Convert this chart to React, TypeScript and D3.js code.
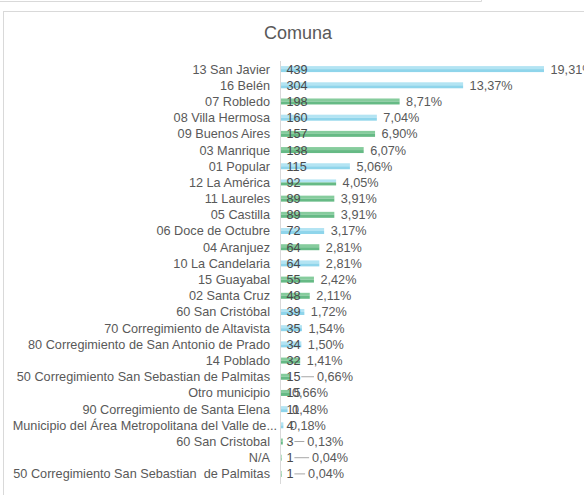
import React from "react";
import * as d3 from "d3";

const categories = [
  "13 San Javier",
  "16 Belén",
  "07 Robledo",
  "08 Villa Hermosa",
  "09 Buenos Aires",
  "03 Manrique",
  "01 Popular",
  "12 La América",
  "11 Laureles",
  "05 Castilla",
  "06 Doce de Octubre",
  "04 Aranjuez",
  "10 La Candelaria",
  "15 Guayabal",
  "02 Santa Cruz",
  "60 San Cristóbal",
  "70 Corregimiento de Altavista",
  "80 Corregimiento de San Antonio de Prado",
  "14 Poblado",
  "50 Corregimiento San Sebastian de Palmitas",
  "Otro municipio",
  "90 Corregimiento de Santa Elena",
  "Municipio del Área Metropolitana del Valle de...",
  "60 San Cristobal",
  "N/A",
  "50 Corregimiento San Sebastian\u00a0 de Palmitas",
];

const counts = [439, 304, 198, 160, 157, 138, 115, 92, 89, 89, 72, 64, 64, 55, 48, 39, 35, 34, 32, 15, 15, 11, 4, 3, 1, 1];

// bar colour kind: b = blue, g = green, bg = blue top / green bottom
const colorKinds = ["b", "b", "g", "b", "g", "g", "b", "bg", "g", "g", "b", "g", "b", "g", "g", "b", "b", "b", "g", "g", "g", "b", "b", "g", "g", "g"];

// label placement nudges (layout only), by row index
const pctNudge: Record<number, number> = { 19: 20.5, 20: -4.5, 21: -2, 22: 0, 23: 18, 24: 24, 25: 20 };

const W = 584;
const H = 495;
const TEXT = "#595959";
const FONT = "'Liberation Sans', Arial, sans-serif";

export default function App() {
  const total = d3.sum(counts);
  const x = d3.scaleLinear().domain([0, 439]).range([281, 544]);
  const y = d3.scaleBand<string>().domain(categories).range([61, 482]).paddingInner(0.63).paddingOuter(0.315);
  const bh = y.bandwidth();
  const fmt = (v: number) => (Math.round((v / total) * 10000) / 100).toFixed(2).replace(".", ",") + "%";
  const blueTop = "#b3e4f3";
  const blueBot = "#8fd5eb";
  const greenTop = "#86cc9d";
  const greenBot = "#66ba85";

  return (
    <svg width={W} height={H} style={{ position: "absolute", left: 0, top: 0, background: "#fff" }} fontFamily={FONT}>
      <rect x={0} y={0} width={W} height={H} fill="#fff" />
      {/* frame pieces */}
      <line x1={0} x2={481.5} y1={1.5} y2={1.5} stroke="#d9d9d9" />
      <line x1={481.5} x2={481.5} y1={0} y2={1.5} stroke="#d9d9d9" />
      <rect x={3.5} y={11.5} width={W} height={H} fill="none" stroke="#d9d9d9" />
      <text x={298} y={39} textAnchor="middle" fontSize={18} fill={TEXT}>
        Comuna
      </text>
      {/* axis line */}
      <line x1={280.5} x2={280.5} y1={61} y2={484} stroke="#d9d9d9" />
      {categories.map((c, i) => {
        const v = counts[i];
        const yc = (y(c) as number) + bh / 2;
        const x0 = x(0);
        const x1 = x(v);
        const kind = colorKinds[i];
        const top = kind === "g" ? greenTop : blueTop;
        const bot = kind === "b" ? blueBot : greenBot;
        const barEnd = x1;
        const nudge = pctNudge[i] ?? 0;
        const px = barEnd + 6.5 + nudge;
        const cntStr = String(v);
        const cntEnd = 286.5 + cntStr.length * 6.9;
        const truncated = c.endsWith("...");
        return (
          <g key={c}>
            <text x={truncated ? 277 : 270} y={yc} dy="0.35em" textAnchor="end" fontSize={12.7} fill={TEXT}>
              {c}
            </text>
            <rect x={x0} y={yc - bh / 2} width={Math.max(0, x1 - x0)} height={bh / 2} fill={top} />
            <rect x={x0} y={yc} width={Math.max(0, x1 - x0)} height={bh / 2} fill={bot} />
            {nudge > 10 && <line x1={cntEnd + 1} x2={px - 3} y1={yc} y2={yc} stroke="#a6a6a6" strokeWidth={1} />}
            <text x={286.5} y={yc} dy="0.35em" fontSize={12.7} fill="#4a4a4a">
              {cntStr}
            </text>
            <text x={px} y={yc} dy="0.35em" fontSize={12.7} fill={TEXT}>
              {fmt(v)}
            </text>
          </g>
        );
      })}
    </svg>
  );
}
